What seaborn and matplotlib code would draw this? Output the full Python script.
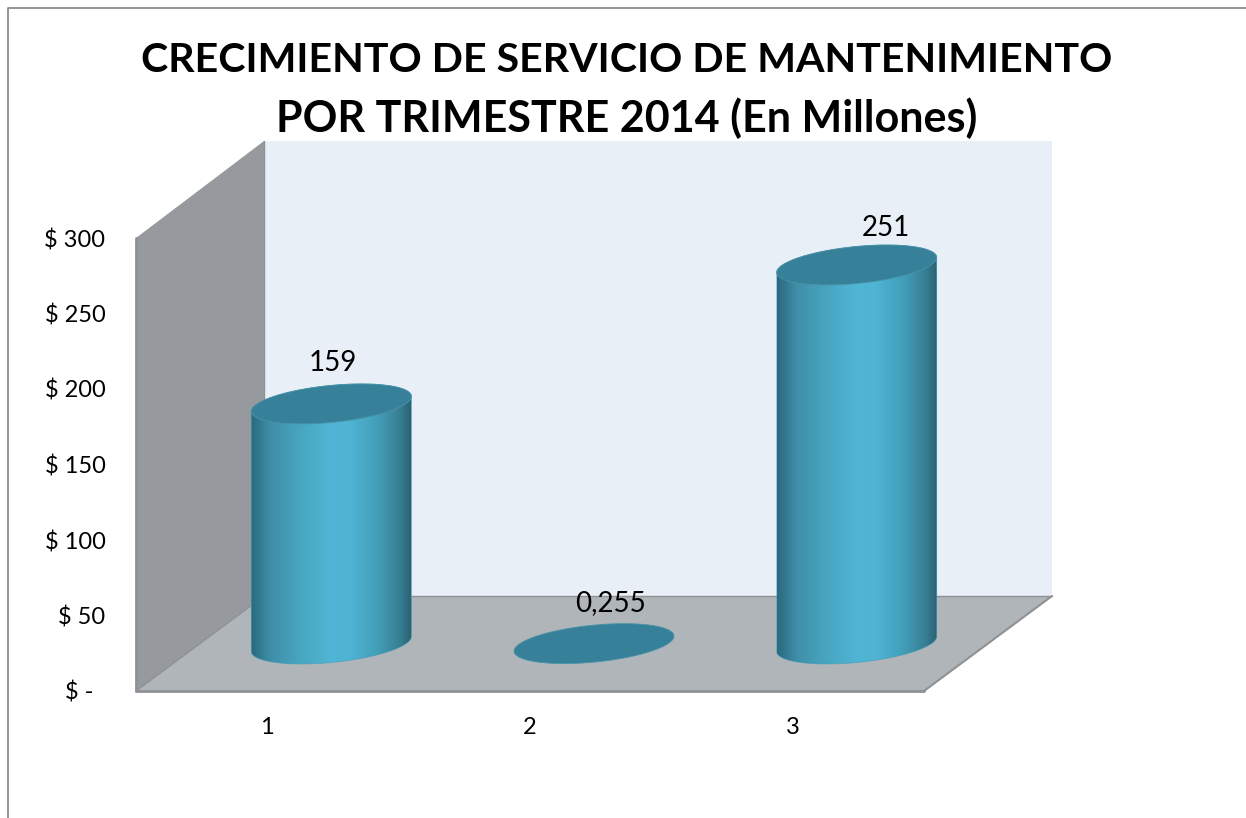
import numpy as np
import matplotlib
matplotlib.use('Agg')
import matplotlib.pyplot as plt
import seaborn as sns
from matplotlib.colors import LinearSegmentedColormap
from matplotlib.lines import Line2D
from matplotlib.patches import PathPatch, Polygon
from matplotlib.path import Path
from matplotlib.transforms import IdentityTransform, ScaledTranslation

trimestres = ['1', '2', '3']
valores = [159, 0.255, 251]
etiquetas = ['159', '0,255', '251']
ticks_y = [0, 50, 100, 150, 200, 250, 300]
ticks_y_txt = ['$ -  ', '$ 50', '$ 100', '$ 150', '$ 200', '$ 250', '$ 300']
titulo_1 = 'CRECIMIENTO DE SERVICIO DE MANTENIMIENTO'
titulo_2 = 'POR TRIMESTRE 2014 (En Millones)'

W, H = 1246, 818
DPI = 100
# depth of the fake 3d box, pixels
PROF_X, PROF_Y = 128, 95
# where each label sits relative to its value, pixels
offs_etiq = [(66, 88), (81, 88), (93, 84)]

sns.set_style('white')
plt.rcParams['font.family'] = ['Lato', 'DejaVu Sans']

fig = plt.figure(figsize=(W / DPI, H / DPI), dpi=DPI, facecolor='white')
ax = fig.add_axes([136 / W, (H - 691) / H, 788 / W, 453 / H])

sns.barplot(x=trimestres, y=valores, color='#4aa5bf', width=0.61, saturation=1, ax=ax, zorder=3)
ax.set_ylim(0, 300)
ax.set_xlim(-0.5, 2.5)
ax.patch.set_visible(False)
sns.despine(ax=ax, left=True, bottom=True)

ax.set_yticks(ticks_y)
ax.set_yticklabels(ticks_y_txt, fontsize=17, color='black')
ax.tick_params(axis='y', length=0, pad=22)
ax.tick_params(axis='x', length=0, pad=18.5, labelsize=17, labelcolor='black')
ax.set_xlabel('')
ax.set_ylabel('')

# walls and floor
dx = PROF_X / 788
dy = PROF_Y / 453
dy_top = 97 / 453
pared_izq = Polygon([(0, 1), (dx, 1 + dy_top), (dx, dy), (0, 0)], facecolor='#96999d', edgecolor='none')
fondo = Polygon([(dx, dy), (dx, 1 + dy_top), (1 + dx, 1 + dy_top), (1 + dx, dy)], facecolor='#e8eff6', edgecolor='none')
piso = Polygon([(0, 0), (dx, dy), (1 + dx, dy), (1, 0)], facecolor='#b0b5b9', edgecolor='none')
for p in [fondo, pared_izq, piso]:
    p.set_transform(ax.transAxes)
    p.set_clip_on(False)
    p.set_zorder(1)
    ax.add_patch(p)
lineas = [([0, 0], [0, 1], 2), ([dx, dx], [dy, 1 + dy_top], 1), ([0, dx], [0, dy], 1),
          ([dx, 1 + dx], [dy, dy], 1), ([0, 1], [0, 0], 2), ([1, 1 + dx], [0, dy], 1.5)]
for xs, ys, lw in lineas:
    ax.plot(xs, ys, transform=ax.transAxes, color='#8f9194', lw=lw, clip_on=False, zorder=2,
            solid_capstyle='round')

# cylinders: bars sit half way into the box
despl = ScaledTranslation(64 / DPI, 47 / DPI, fig.dpi_scale_trans)
trans_barra = ax.transData + despl
cmap_cil = LinearSegmentedColormap.from_list('cil', [
    (0.0, '#2a6a7e'), (0.03, '#2f7289'), (0.12, '#3f8ea8'), (0.3, '#48a5c0'),
    (0.5, '#50b5d6'), (0.62, '#4fb3d3'), (0.78, '#43a0ba'), (0.92, '#388096'), (1.0, '#2a5f70')])
gradiente = np.linspace(0, 1, 256).reshape(1, -1)

RX, RY, TILT = 80, 18.5, 7.5


def elipse(cx, cy, t):
    return np.column_stack([cx + RX * np.cos(t), cy + TILT * np.cos(t) + RY * np.sin(t)])


for barra, v in zip(ax.patches[:len(valores)], valores):
    x_izq = barra.get_x()
    ancho = barra.get_width()
    x_c = x_izq + ancho / 2
    cx, cy_base = trans_barra.transform((x_c, 0))
    _, cy_tope = trans_barra.transform((x_c, v))

    # body outline: bottom half of the base ellipse, then up to the top
    t_inf = np.linspace(np.pi, 2 * np.pi, 80)
    t_sup = np.linspace(0, np.pi, 80)
    contorno = np.vstack([elipse(cx, cy_base, t_inf), elipse(cx, cy_tope, t_sup)])
    cuerpo = Path(np.vstack([contorno, contorno[:1]]), closed=True)

    barra.set_transform(trans_barra)
    barra.set_linewidth(0)
    barra.set_clip_box(fig.bbox)
    barra.set_clip_path(cuerpo, IdentityTransform())

    if v > 1:
        img = ax.imshow(gradiente, cmap=cmap_cil, aspect='auto', zorder=3,
                        extent=(x_izq, x_izq + ancho, -20, v + 20), transform=trans_barra)
        img.set_clip_box(fig.bbox)
        img.set_clip_path(cuerpo, IdentityTransform())
        ax.add_patch(PathPatch(cuerpo, transform=IdentityTransform(), facecolor='none',
                               edgecolor='#3a9ab5', lw=0.6, alpha=0.6, zorder=3.5, clip_on=False))
    tapa = elipse(cx, cy_tope, np.linspace(0, 2 * np.pi, 160))
    ax.add_patch(Polygon(tapa, closed=True, transform=IdentityTransform(), facecolor='#37809a',
                         edgecolor='#4a93a8', lw=0.6, zorder=4, clip_on=False))

ax.set_xlim(-0.5, 2.5)
ax.set_ylim(0, 300)

for i, (v, txt, off) in enumerate(zip(valores, etiquetas, offs_etiq)):
    ax.annotate(txt, xy=(i, v), xytext=off, textcoords='offset pixels', ha='center', va='center',
                fontsize=20, color='black', zorder=5, annotation_clip=False)

fig.text(627 / W, 1 - 60 / H, titulo_1, ha='center', va='center', fontsize=29.6, fontweight='bold', color='black')
fig.text(627 / W, 1 - 118 / H, titulo_2, ha='center', va='center', fontsize=31, fontweight='bold', color='black')

# chart area border, cut by the image on the right and bottom
borde_x = 8 / W
borde_y = 1 - 8 / H
fig.add_artist(Line2D([borde_x, borde_x, 1], [0, borde_y, borde_y], color='#8c8c8c', lw=1.3))

fig.savefig('out.png', dpi=DPI, facecolor='white')
